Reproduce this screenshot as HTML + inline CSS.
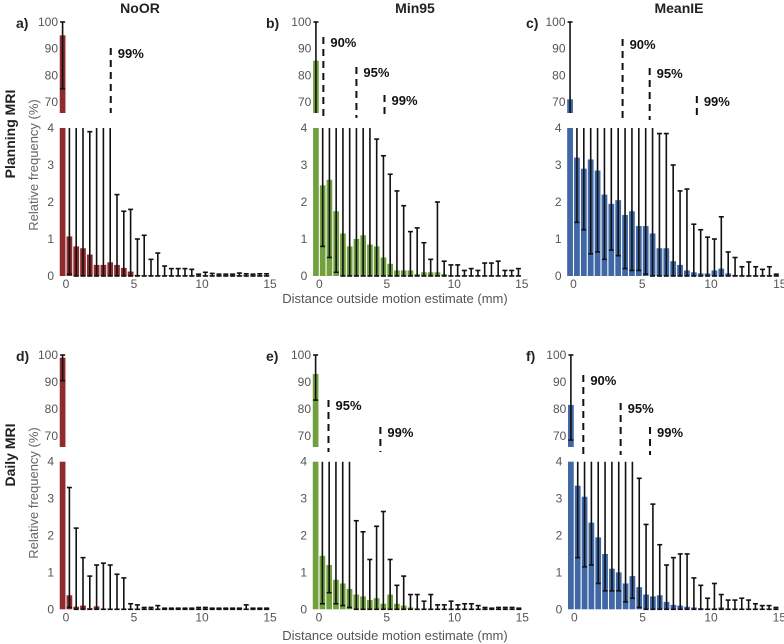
<!DOCTYPE html>
<html><head><meta charset="utf-8"><style>
body{margin:0;background:#fff;}
svg{display:block;font-family:"Liberation Sans",sans-serif;}
.tk{font-size:12px;fill:#555;}
.ttl{font-size:14px;font-weight:bold;fill:#222;}
.pct{font-size:13px;font-weight:bold;fill:#111;}
</style></head><body>
<svg id="chart" width="784" height="644" viewBox="0 0 784 644" xmlns="http://www.w3.org/2000/svg"></svg>
<script>
// bin centres: -0.25, 0.25, ... 14.75 (mm)
const binStart = -0.25, binStep = 0.5;
// Panel a (Planning, NoOR)
const aVals = [95,1.07,0.8,0.75,0.58,0.3,0.3,0.37,0.3,0.22,0.12,0.03,0.02,0.02,0.02,0.02,0.02,0.02,0.02,0.02,0.01,0.02,0.02,0.02,0.02,0.02,0.02,0.02,0.02,0.02,0.02];
const aHi = [100,5,5,5,3.9,5,5,5,2.2,1.75,1.8,1.0,1.1,0.45,0.62,0.27,0.2,0.2,0.2,0.18,0.05,0.1,0.07,0.05,0.05,0.05,0.08,0.06,0.05,0.06,0.06];
const aLo = [75,0.05,0,0,0,0,0,0,0,0,0,0,0,0,0,0,0,0,0,0,0,0,0,0,0,0,0,0,0,0,0];
// Panel b (Planning, Min95)
const bVals = [85.5,2.45,2.6,1.75,1.15,0.8,1.0,1.1,0.85,0.8,0.5,0.33,0.15,0.15,0.15,0.05,0.1,0.1,0.1,0.05,0.02,0.02,0.02,0.02,0.02,0.02,0.02,0.02,0.02,0.02,0.02];
const bHi = [100,5,5,5,5,5,5,5,5,3.7,3.25,2.75,2.3,1.9,1.2,1.3,0.9,0.45,2.0,0.4,0.3,0.3,0.15,0.2,0.15,0.35,0.35,0.4,0.15,0.15,0.2];
const bLo = [60,0.8,0.5,0.1,0,0,0,0,0,0,0,0,0,0,0,0,0,0,0,0,0,0,0,0,0,0,0,0,0,0,0];
// Panel c (Planning, MeanIE)
const cVals = [71,3.2,2.9,3.15,2.85,2.2,1.95,2.05,1.65,1.75,1.35,1.35,1.15,0.75,0.75,0.4,0.3,0.15,0.1,0.07,0.07,0.15,0.2,0.07,0.03,0.02,0.02,0.02,0.02,0.02,0.02];
const cHi = [100,5,5,5,5,5,5,5,5,5,5,5,5,3.85,3.85,3.0,2.3,2.35,1.4,1.25,1.05,1.0,1.6,0.65,0.5,0.25,0.38,0.25,0.18,0.25,0.05];
const cLo = [40,1.45,1.25,0.6,0.65,0.45,0.7,0.55,0.2,0.15,0.15,0.05,0,0,0,0,0,0,0,0,0,0,0,0,0,0,0,0,0,0,0];
// Panel d (Daily, NoOR)
const dVals = [99,0.38,0.07,0.1,0.03,0.08,0.02,0.02,0.02,0.02,0.02,0.02,0.02,0.02,0.02,0.02,0.02,0.02,0.02,0.02,0.02,0.02,0.02,0.02,0.02,0.02,0.02,0.02,0.02,0.02,0.02];
const dHi = [100,3.3,2.2,1.4,0.9,1.2,1.25,1.2,0.95,0.85,0.15,0.12,0.05,0.05,0.1,0.03,0.03,0.03,0.03,0.03,0.05,0.05,0.03,0.03,0.03,0.03,0.03,0.12,0.03,0.03,0.03];
const dLo = [90.5,0.05,0,0,0,0,0,0,0,0,0,0,0,0,0,0,0,0,0,0,0,0,0,0,0,0,0,0,0,0,0];
// Panel e (Daily, Min95)
const eVals = [93,1.45,1.2,0.8,0.7,0.55,0.4,0.35,0.25,0.3,0.15,0.4,0.15,0.1,0.05,0.02,0.02,0.02,0.02,0.02,0.02,0.02,0.02,0.02,0.02,0.02,0.02,0.02,0.02,0.02,0.02];
const eHi = [100,5,5,5,5,5,2.4,2.1,1.35,2.25,2.65,1.35,0.65,0.9,0.4,0.4,0.22,0.4,0.12,0.12,0.22,0.12,0.15,0.15,0.1,0.05,0.03,0.05,0.05,0.05,0.03];
const eLo = [83.3,0.15,0.45,0.15,0.1,0.05,0,0,0,0,0,0,0,0,0,0,0,0,0,0,0,0,0,0,0,0,0,0,0,0,0];
// Panel f (Daily, MeanIE)
const fVals = [81.5,3.35,3.05,2.35,1.95,1.5,1.1,1.0,0.7,0.9,0.6,0.4,0.35,0.38,0.2,0.12,0.1,0.07,0.05,0.03,0.02,0.02,0.05,0.02,0.02,0.02,0.02,0.02,0.02,0.02,0.02];
const fHi = [100,5,5,5,5,5,5,5,5,5,3.55,2.3,2.85,1.75,1.2,1.4,1.5,1.5,0.85,0.65,0.3,0.7,0.4,0.25,0.25,0.3,0.25,0.15,0.1,0.1,0.05];
const fLo = [68.5,1.4,1.15,1.2,0.7,0.5,0.5,0.5,0.2,0.3,0.05,0,0,0,0,0,0,0,0,0,0,0,0,0,0,0,0,0,0,0,0];
// Percentile markers (mm) and labels
const bPctX = [0.3,2.75,4.83], bPctL = ["90%","95%","99%"];
const aPctX = [3.29], aPctL = ["99%"];
const cPctX = [3.57,5.54,8.97], cPctL = ["90%","95%","99%"];
const dPctX = [], dPctL = [];
const ePctX = [0.7,4.53], ePctL = ["95%","99%"];
const fPctX = [0.66,3.39,5.54], fPctL = ["90%","95%","99%"];
const xTicks = [0,5,10,15];
const topTicks = [100,90,80,70];
const lowTicks = [4,3,2,1,0];

const NS="http://www.w3.org/2000/svg";
const svg=document.getElementById('chart');
function mk(tag,attrs,parent){const e=document.createElementNS(NS,tag);for(const k in attrs)e.setAttribute(k,attrs[k]);(parent||svg).appendChild(e);return e;}

const RED="#8f2a2d",GRN="#73a03f",BLU="#4067a6";
const panels=[
 {id:'a',v:aVals,hi:aHi,lo:aLo,px:aPctX,pl:aPctL,col:RED,x0:66,s:13.6,y100:22,y70:102,yIb:113,y4:128,y0:276,pt:[48,113]},
 {id:'b',v:bVals,hi:bHi,lo:bLo,px:bPctX,pl:bPctL,col:GRN,x0:319.3,s:13.5,y100:22,y70:102,yIb:113,y4:128,y0:276,pt:[37,67,95],pb:118},
 {id:'c',v:cVals,hi:cHi,lo:cLo,px:cPctX,pl:cPctL,col:BLU,x0:573.5,s:13.75,y100:22,y70:102,yIb:113,y4:128,y0:276,pt:[39,68,96],pb:120},
 {id:'d',v:dVals,hi:dHi,lo:dLo,px:dPctX,pl:dPctL,col:RED,x0:66,s:13.6,y100:355,y70:436,yIb:447,y4:461.7,y0:609.3,pt:[]},
 {id:'e',v:eVals,hi:eHi,lo:eLo,px:ePctX,pl:ePctL,col:GRN,x0:319,s:13.55,y100:355,y70:436,yIb:447,y4:461.7,y0:609.3,pt:[400,427],pb:452},
 {id:'f',v:fVals,hi:fHi,lo:fLo,px:fPctX,pl:fPctL,col:BLU,x0:574.3,s:13.67,y100:355,y70:436,yIb:447,y4:461.7,y0:609.3,pt:[375,403,427],pb:455}
];
panels[0].pb=113;

panels.forEach(P=>{
  const g=mk('g',{});
  
  
  const xs=x=>P.x0+x*P.s;
  const yTop=v=>P.y100+(100-v)*(P.y70-P.y100)/30;
  const yLow=v=>P.y0-v*(P.y0-P.y4)/4;
  const topMin=100-(P.yIb-P.y100)*30/(P.y70-P.y100);
  const bw=binStep*P.s*0.84;
  // bars
  P.v.forEach((val,i)=>{
    const cx=xs(binStart+i*binStep);
    const lv=Math.min(val,4);
    const r=mk('rect',{x:cx-bw/2,y:yLow(lv),width:bw,height:P.y0-yLow(lv),fill:P.col},g);
    
    
    if(val>topMin){
      const r2=mk('rect',{x:cx-bw/2,y:yTop(val),width:bw,height:P.yIb-yTop(val),fill:P.col},g);
      
      
    }
  });
  // error bars
  P.v.forEach((val,i)=>{
    const cx=xs(binStart+i*binStep);
    const hi=P.hi[i],lo=P.lo[i];
    const eg=mk('g',{stroke:'#111','stroke-width':1.6},g);
    
    
    const cap=(y)=>mk('line',{x1:cx-2.5,x2:cx+2.5,y1:y,y2:y},eg);
    // lower axis segment
    if(lo<4){
      const yA=yLow(Math.min(hi,4)),yB=yLow(lo);
      mk('line',{x1:cx,x2:cx,y1:yA,y2:yB},eg);
      if(hi<=4)cap(yA);
      cap(yB);
    }
    // top inset segment
    if(hi>topMin){
      const yA=yTop(hi),yB=lo>topMin?yTop(lo):P.yIb;
      mk('line',{x1:cx,x2:cx,y1:yA,y2:yB},eg);
      cap(yA); if(lo>topMin)cap(yB);
    }
  });
  // percentile markers
  P.px.forEach((m,k)=>{
    const x=xs(m);
    const l=mk('line',{x1:x,x2:x,y1:P.pt[k],y2:P.pb,stroke:'#111','stroke-width':2,'stroke-dasharray':'7,5'},g);
    
    
    const t=mk('text',{x:x+7,y:P.pt[k]+10,class:'pct'},g);
    t.textContent=P.pl[k];
    
    
  });
  // ticks
  topTicks.forEach(v=>{
    const t=mk('text',{x:P.x0-8,y:yTop(v)+4,class:'tk','text-anchor':'end'},g);t.textContent=v;
    
    
  });
  lowTicks.forEach(v=>{
    const t=mk('text',{x:P.x0-12,y:yLow(v)+4,class:'tk','text-anchor':'end'},g);t.textContent=v;
    
    
  });
  xTicks.forEach(v=>{
    const t=mk('text',{x:xs(v),y:P.y0+12,class:'tk','text-anchor':'middle'},g);t.textContent=v;
    
    
  });
});
</script>
<script>
(function(){
const NS="http://www.w3.org/2000/svg";const svg=document.getElementById('chart');
function txt(s,attrs,name){const e=document.createElementNS(NS,'text');for(const k in attrs)e.setAttribute(k,attrs[k]);e.textContent=s;


svg.appendChild(e);}
txt('NoOR',{x:140,y:13,class:'ttl','text-anchor':'middle'},'title-noor');
txt('Min95',{x:415,y:13,class:'ttl','text-anchor':'middle'},'title-min95');
txt('MeanIE',{x:679,y:13,class:'ttl','text-anchor':'middle'},'title-meanie');
[['a)',16,28],['b)',266,28],['c)',526,28],['d)',16,361],['e)',266,361],['f)',526,361]].forEach(p=>txt(p[0],{x:p[1],y:p[2],class:'ttl'},'panel-label'));
txt('Planning MRI',{x:0,y:0,class:'ttl','text-anchor':'middle',transform:'translate(15,134) rotate(-90)'},'row-label-planning');
txt('Daily MRI',{x:0,y:0,class:'ttl','text-anchor':'middle',transform:'translate(15,455) rotate(-90)'},'row-label-daily');
txt('Relative frequency (%)',{x:0,y:0,'font-size':13,fill:'#666','text-anchor':'middle',transform:'translate(38,165) rotate(-90)'},'y-axis-title-top');
txt('Relative frequency (%)',{x:0,y:0,'font-size':13,fill:'#666','text-anchor':'middle',transform:'translate(38,493) rotate(-90)'},'y-axis-title-bottom');
txt('Distance outside motion estimate (mm)',{x:395,y:303,'font-size':13,fill:'#555','text-anchor':'middle'},'x-axis-title-top');
txt('Distance outside motion estimate (mm)',{x:395,y:640,'font-size':13,fill:'#555','text-anchor':'middle'},'x-axis-title-bottom');
})();
</script>
</body></html>
